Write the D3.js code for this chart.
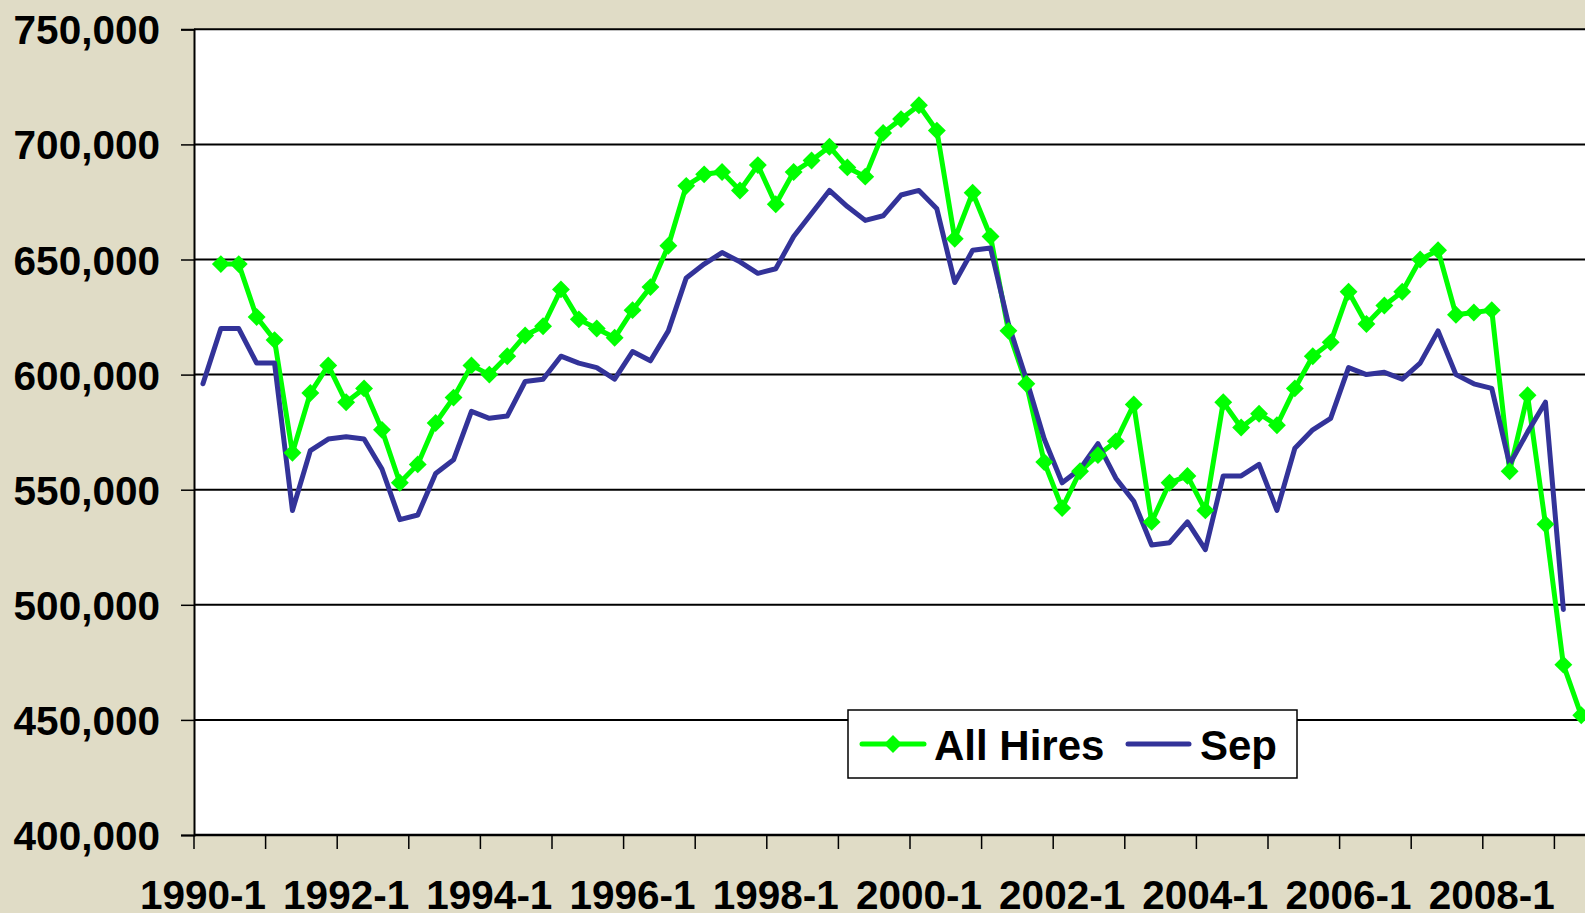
<!DOCTYPE html>
<html>
<head>
<meta charset="utf-8">
<script src="https://cdn.jsdelivr.net/npm/d3@7"></script>
<style>
  body { margin: 0; background: #e0dcc6; }
  svg { display: block; }
  text { font-family: "Liberation Sans", Arial, sans-serif; font-weight: bold; fill: #000; }
</style>
</head>
<body>
<script>
// quarters shown on the category axis
var years = d3.range(1990, 2010)
var quarters = [1, 2, 3, 4]
var categories = []
years.forEach(function(y){ quarters.forEach(function(q){ categories.push(y + '-' + q) }) })
categories = categories.slice(0, 78)   // 1990-1 .. 2009-2

// All Hires (starts 1990-2)
var hires = [null,
  648000, 648000, 625000, 615000, 566000, 592000, 604000, 588000, 594000, 576000,
  553000, 561000, 579000, 590000, 604000, 600000, 608000, 617000, 621000, 637000,
  624000, 620000, 616000, 628000, 638000, 656000, 682000, 687000, 688000, 680000,
  691000, 674000, 688000, 693000, 699000, 690000, 686000, 705000, 711000, 717000,
  706000, 659000, 679000, 660000, 619000, 596000, 562000, 542000, 558000, 565000,
  571000, 587000, 536000, 553000, 556000, 541000, 588000, 577000, 583000, 578000,
  594000, 608000, 614000, 636000, 622000, 630000, 636000, 650000, 654000, 626000,
  627000, 628000, 558000, 591000, 535000, 474000, 452000]

// Sep (ends 2009-1)
var sep = [596000,
  620000, 620000, 605000, 605000, 541000, 567000, 572000, 573000, 572000, 559000,
  537000, 539000, 557000, 563000, 584000, 581000, 582000, 597000, 598000, 608000,
  605000, 603000, 598000, 610000, 606000, 619000, 642000, 648000, 653000, 649000,
  644000, 646000, 660000, 670000, 680000, 673000, 667000, 669000, 678000, 680000,
  672000, 640000, 654000, 655000, 622000, 598000, 572000, 553000, 559000, 570000,
  555000, 545000, 526000, 527000, 536000, 524000, 556000, 556000, 561000, 541000,
  568000, 576000, 581000, 603000, 600000, 601000, 598000, 605000, 619000, 600000,
  596000, 594000, 561000, 575000, 588000, 498000, null]

var yTicks = [400000, 450000, 500000, 550000, 600000, 650000, 700000, 750000]

var W = 1585, H = 913
var svg = d3.select('body').append('svg').attr('width', W).attr('height', H)

var plotLeft = 194, plotTop = 29.3, plotBottom = 835
var x = d3.scaleBand().domain(categories).range([plotLeft, plotLeft + 17.9 * categories.length]).padding(0)
var y = d3.scaleLinear().domain([400000, 750000]).range([plotBottom, plotTop])
var cx = function(c){ return x(c) + x.bandwidth() / 2 }
var plotRight = x.range()[1]

// plot area
svg.append('rect').attr('x', plotLeft).attr('y', plotTop)
  .attr('width', plotRight - plotLeft).attr('height', plotBottom - plotTop).attr('fill', '#fff')

// gridlines
svg.selectAll('.grid').data(yTicks.slice(1)).enter().append('line')
  .attr('x1', plotLeft).attr('x2', plotRight)
  .attr('y1', function(d){ return y(d) }).attr('y2', function(d){ return y(d) })
  .attr('stroke', '#000').attr('stroke-width', 2)

// y axis
var yAxis = svg.append('g').attr('transform', 'translate(' + plotLeft + ',0)')
  .call(d3.axisLeft(y).tickValues(yTicks).tickSize(13).tickPadding(21).tickFormat(d3.format(',')))
yAxis.select('.domain').attr('stroke-width', 2)
yAxis.selectAll('.tick line').attr('stroke-width', 1.5)
yAxis.selectAll('text').attr('font-size', 40.5).attr('font-family', null).attr('dy', '0.36em')

// x axis: ticks between years, labels every other year
var xg = svg.append('g')
xg.append('line').attr('x1', plotLeft).attr('x2', plotRight)
  .attr('y1', plotBottom).attr('y2', plotBottom).attr('stroke', '#000').attr('stroke-width', 2.5)
xg.selectAll('.xt').data(categories.filter(function(c, i){ return i % 4 === 0 })).enter().append('line')
  .attr('x1', function(c){ return x(c) }).attr('x2', function(c){ return x(c) })
  .attr('y1', plotBottom).attr('y2', plotBottom + 14).attr('stroke', '#000').attr('stroke-width', 1.5)
xg.selectAll('.xl').data(categories.filter(function(c, i){ return i % 8 === 0 })).enter().append('text')
  .attr('x', cx).attr('y', 909).attr('text-anchor', 'middle').attr('font-size', 40.5)
  .text(function(c){ return c })

var green = '#00ff00', blue = '#333399'

var line = d3.line()
  .defined(function(d){ return d.v !== null })
  .x(function(d){ return cx(d.c) }).y(function(d){ return y(d.v) })

var hiresPts = categories.map(function(c, i){ return {c: c, v: hires[i]} })
var sepPts = categories.map(function(c, i){ return {c: c, v: sep[i]} })

svg.append('path').datum(hiresPts).attr('d', line).attr('fill', 'none')
  .attr('stroke', green).attr('stroke-width', 5).attr('stroke-linejoin', 'round')
svg.append('path').datum(sepPts).attr('d', line).attr('fill', 'none')
  .attr('stroke', blue).attr('stroke-width', 5).attr('stroke-linejoin', 'round').attr('stroke-linecap', 'round')

var diamond = d3.symbol().type(d3.symbolSquare).size(160)
svg.selectAll('.mk').data(hiresPts.filter(function(d){ return d.v !== null })).enter().append('path')
  .attr('d', diamond)
  .attr('transform', function(d){ return 'translate(' + cx(d.c) + ',' + y(d.v) + ') rotate(45)' })
  .attr('fill', green)

// legend
var lg = svg.append('g')
lg.append('rect').attr('x', 848).attr('y', 710).attr('width', 449).attr('height', 68)
  .attr('fill', '#fff').attr('stroke', '#000').attr('stroke-width', 1.5)
lg.append('line').attr('x1', 862).attr('x2', 924).attr('y1', 744).attr('y2', 744)
  .attr('stroke', green).attr('stroke-width', 5).attr('stroke-linecap', 'round')
lg.append('path').attr('d', diamond).attr('transform', 'translate(893,744) rotate(45)').attr('fill', green)
lg.append('text').attr('x', 934).attr('y', 760).attr('font-size', 42).text('All Hires')
lg.append('line').attr('x1', 1128).attr('x2', 1189).attr('y1', 744).attr('y2', 744)
  .attr('stroke', blue).attr('stroke-width', 5).attr('stroke-linecap', 'round')
lg.append('text').attr('x', 1200).attr('y', 760).attr('font-size', 42).text('Sep')
</script>
</body>
</html>
